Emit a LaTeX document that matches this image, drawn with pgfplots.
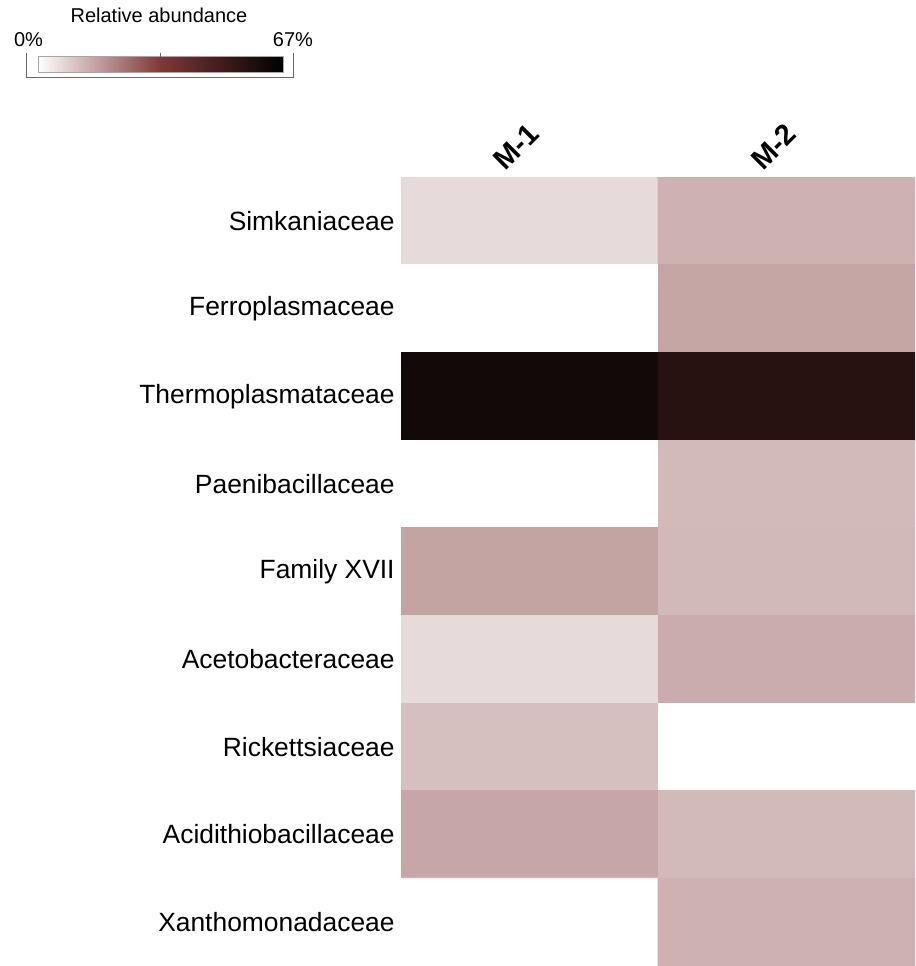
\documentclass[border=0pt]{standalone}
\usepackage{fontspec}
\setmainfont{Liberation Sans}
\usepackage{pgfplots}
\pgfplotsset{compat=1.18}
\usepackage{pgfplotstable}

% relative abundance (%), rows in scanline order: x = sample (0 = M-1, 1 = M-2), y = family
\pgfplotstableread{
x y v
0 0 6.2
1 0 13.0
0 1 0
1 1 15.1
0 2 61.8
1 2 56.6
0 3 0
1 3 11.6
0 4 15.5
1 4 11.8
0 5 6.2
1 5 14.0
0 6 10.8
1 6 0
0 7 15.0
1 7 11.6
0 8 0
1 8 13.0
}\abund

\begin{document}
\begin{tikzpicture}
\begin{axis}[
    name=main,
    scale only axis,
    width=257pt, height=394.5pt,
    xmin=-0.5, xmax=1.5, ymin=-0.5, ymax=8.5,
    y dir=reverse,
    enlargelimits=false,
    axis line style={draw=none},
    tick style={draw=none},
    xtick={0,1}, xticklabels={M-1,M-2},
    xticklabel pos=upper,
    xticklabel style={font=\fontsize{14.5}{16}\selectfont\bfseries,
        xshift=-6.5pt, yshift=15pt, rotate=45, anchor=center},
    ytick={0,...,8},
    yticklabels={Simkaniaceae,Ferroplasmaceae,Thermoplasmataceae,Paenibacillaceae,
        Family XVII,Acetobacteraceae,Rickettsiaceae,Acidithiobacillaceae,Xanthomonadaceae},
    yticklabel style={font=\fontsize{13.2}{15}\selectfont, anchor=east, inner sep=0pt, xshift=-3pt},
    colormap={abund}{rgb255(0)=(255,255,255) rgb255(1)=(128,56,56) rgb255(2)=(0,0,0)},
    point meta min=0, point meta max=67,
    colorbar horizontal,
    colorbar style={
        at={(parent axis.north west)}, anchor=north west,
        xshift=-181.5pt, yshift=69pt,
        scale only axis,
        width=122.5pt, height=8pt,
        xtick=\empty, ytick=\empty,
        axis line style={draw=gray!70, line width=0.4pt},
    },
]
\addplot[matrix plot*, mesh/cols=2, mesh/rows=9, point meta=explicit]
    table[x=x, y=y, meta=v] {\abund};
\end{axis}

% colour key: frame, middle tick, labels
\begin{scope}[shift={(main.north west)}]
\draw[gray!80!black, line width=0.5pt] (-187pt,62pt) -- (-187pt,49.5pt) -- (-54pt,49.5pt) -- (-54pt,62pt);
\draw[gray!80!black, line width=0.5pt] (-120pt,62pt) -- (-120pt,60pt);
\node[anchor=base, inner sep=0pt, font=\fontsize{10}{12}\selectfont] at (-186.25pt,65pt) {0\%};
\node[anchor=base, inner sep=0pt, font=\fontsize{10}{12}\selectfont] at (-54pt,65pt) {67\%};
\node[anchor=base, inner sep=0pt, font=\fontsize{10}{12}\selectfont] at (-121pt,77pt) {Relative abundance};
\end{scope}
\path ([shift={(-200.5pt,88.5pt)}]main.north west) rectangle (main.south east);
\end{tikzpicture}
\end{document}
